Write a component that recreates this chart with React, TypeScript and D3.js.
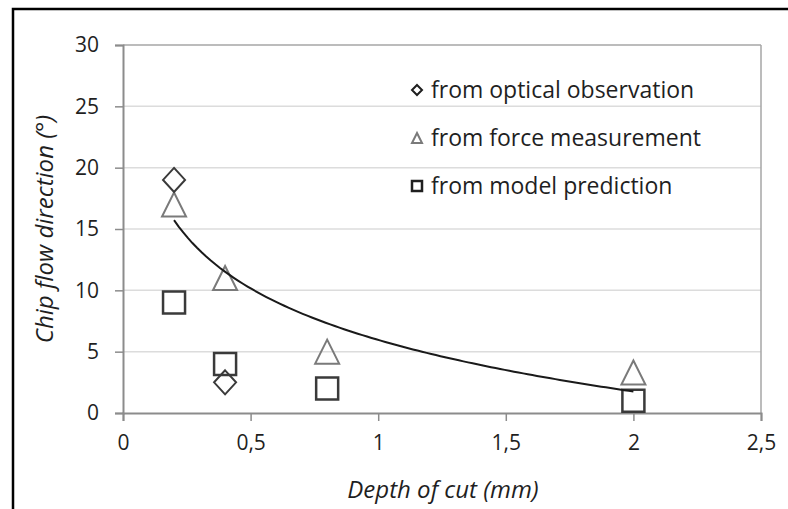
import { useEffect, useRef } from 'react';
import * as d3 from 'd3';

// depth of cut (mm) and chip flow direction (deg)
const opticalDepth = [0.2, 0.4];
const opticalAngle = [19, 2.5];

const forceDepth = [0.2, 0.4, 0.8, 2];
const forceAngle = [17, 11, 5, 3.3];

const modelDepth = [0.2, 0.4, 0.8, 2];
const modelAngle = [9, 4, 2, 1];

const xTicks = [0, 0.5, 1, 1.5, 2, 2.5];
const yTicks = [0, 5, 10, 15, 20, 25, 30];

const legendLabels = ['from optical observation', 'from force measurement', 'from model prediction'];

const FONT = '"Open Sans", "DejaVu Sans", sans-serif';

const diamondPath = (w: number, h: number) => `M0,${-h}L${w},0L0,${h}L${-w},0Z`;
const trianglePath = (w: number, h: number) => `M0,${-h}L${w},${h}L${-w},${h}Z`;
const squarePath = (s: number) => `M${-s},${-s}H${s}V${s}H${-s}Z`;

export default function App() {
  const svgRef = useRef<SVGSVGElement>(null);

  useEffect(() => {
    if (!svgRef.current) return;
    const width = 788;
    const height = 509;
    const margin = { top: 45, right: 27, bottom: 96, left: 123 };

    const svg = d3.select(svgRef.current);
    svg.selectAll('*').remove();

    const x = d3.scaleLinear().domain([0, 2.5]).range([margin.left, width - margin.right]);
    const y = d3.scaleLinear().domain([0, 30]).range([height - margin.bottom, margin.top]);

    // outer frame (top + left edges)
    svg.append('path')
      .attr('d', `M13,${height}V9H${width}`)
      .attr('fill', 'none')
      .attr('stroke', '#000')
      .attr('stroke-width', 2.5);

    // gridlines
    svg.append('g')
      .selectAll('line')
      .data(yTicks.filter(t => t > 0))
      .join('line')
      .attr('x1', x(0)).attr('x2', x(2.5))
      .attr('y1', d => y(d)).attr('y2', d => y(d))
      .attr('stroke', d => (d === 30 ? '#a6a6a6' : '#dcdcdc'))
      .attr('stroke-width', 1.5);

    // plot right border
    svg.append('line')
      .attr('x1', x(2.5)).attr('x2', x(2.5))
      .attr('y1', y(30)).attr('y2', y(0))
      .attr('stroke', '#a6a6a6').attr('stroke-width', 1.5);

    // axes
    const yAxis = svg.append('g')
      .attr('transform', `translate(${x(0)},0)`)
      .call(d3.axisLeft(y).tickValues(yTicks).tickSize(8).tickPadding(16).tickFormat(d => String(d)));
    const xAxis = svg.append('g')
      .attr('transform', `translate(0,${y(0)})`)
      .call(d3.axisBottom(x).tickValues(xTicks).tickSize(8).tickPadding(14)
        .tickFormat(d => String(d).replace('.', ',')));

    [yAxis, xAxis].forEach(a => {
      a.select('.domain').attr('stroke', '#8c8c8c').attr('stroke-width', 2);
      a.selectAll('.tick line').attr('stroke', '#8c8c8c').attr('stroke-width', 1.5);
      a.selectAll('.tick text')
        .attr('fill', '#1f1f1f')
        .style('font-family', FONT)
        .style('font-size', '21px');
    });

    // markers
    svg.append('g')
      .selectAll('path')
      .data(modelDepth.map((d, i) => [d, modelAngle[i]]))
      .join('path')
      .attr('d', squarePath(11))
      .attr('transform', d => `translate(${x(d[0])},${y(d[1])})`)
      .attr('fill', 'none').attr('stroke', '#3a3a3a').attr('stroke-width', 2.5);

    svg.append('g')
      .selectAll('path')
      .data(forceDepth.map((d, i) => [d, forceAngle[i]]))
      .join('path')
      .attr('d', trianglePath(12, 12))
      .attr('transform', d => `translate(${x(d[0])},${y(d[1])})`)
      .attr('fill', 'none').attr('stroke', '#7a7a7a').attr('stroke-width', 2);

    svg.append('g')
      .selectAll('path')
      .data(opticalDepth.map((d, i) => [d, opticalAngle[i]]))
      .join('path')
      .attr('d', diamondPath(11, 12))
      .attr('transform', d => `translate(${x(d[0])},${y(d[1])})`)
      .attr('fill', 'none').attr('stroke', '#3a3a3a').attr('stroke-width', 2);

    // logarithmic trendline fitted to force measurement
    const lx = forceDepth.map(Math.log);
    const mx = d3.mean(lx)!;
    const my = d3.mean(forceAngle)!;
    const b = d3.sum(lx, (v, i) => (v - mx) * (forceAngle[i] - my)) / d3.sum(lx, v => (v - mx) ** 2);
    const a = my - b * mx;
    const [x0, x1] = d3.extent(forceDepth) as [number, number];
    const curve = d3.range(0, 101).map(i => {
      const xv = x0 + (x1 - x0) * i / 100;
      return [xv, a + b * Math.log(xv)] as [number, number];
    });
    svg.append('path')
      .datum(curve)
      .attr('d', d3.line<[number, number]>().x(d => x(d[0])).y(d => y(d[1])))
      .attr('fill', 'none').attr('stroke', '#1a1a1a').attr('stroke-width', 2);

    // legend
    const legend = svg.append('g').attr('transform', 'translate(417,90)');
    const rows = legend.selectAll('g')
      .data(legendLabels)
      .join('g')
      .attr('transform', (_, i) => `translate(0,${i * 48})`);
    rows.append('path')
      .attr('d', (_, i) => (i === 0 ? diamondPath(5, 5) : i === 1 ? trianglePath(5, 5) : squarePath(5)))
      .attr('fill', 'none')
      .attr('stroke', (_, i) => (i === 1 ? '#7a7a7a' : '#1f1f1f'))
      .attr('stroke-width', (_, i) => (i === 2 ? 2.5 : 2));
    rows.append('text')
      .attr('x', 14).attr('y', 8)
      .attr('fill', '#1f1f1f')
      .style('font-family', FONT)
      .style('font-size', '23px')
      .text(d => d);

    // axis titles
    svg.append('text')
      .attr('x', (x(0) + x(2.5)) / 2 + 1).attr('y', 498)
      .attr('text-anchor', 'middle')
      .attr('fill', '#1f1f1f')
      .style('font-family', FONT).style('font-size', '24px').style('font-style', 'italic')
      .text('Depth of cut (mm)');
    svg.append('text')
      .attr('transform', `translate(53,${(y(0) + y(30)) / 2}) rotate(-90)`)
      .attr('text-anchor', 'middle')
      .attr('fill', '#1f1f1f')
      .style('font-family', FONT).style('font-size', '24px').style('font-style', 'italic')
      .text('Chip flow direction (°)');
  }, []);

  return (
    <svg
      ref={svgRef}
      width={788}
      height={509}
      style={{ position: 'absolute', left: 0, top: 0, background: '#fff' }}
    />
  );
}
